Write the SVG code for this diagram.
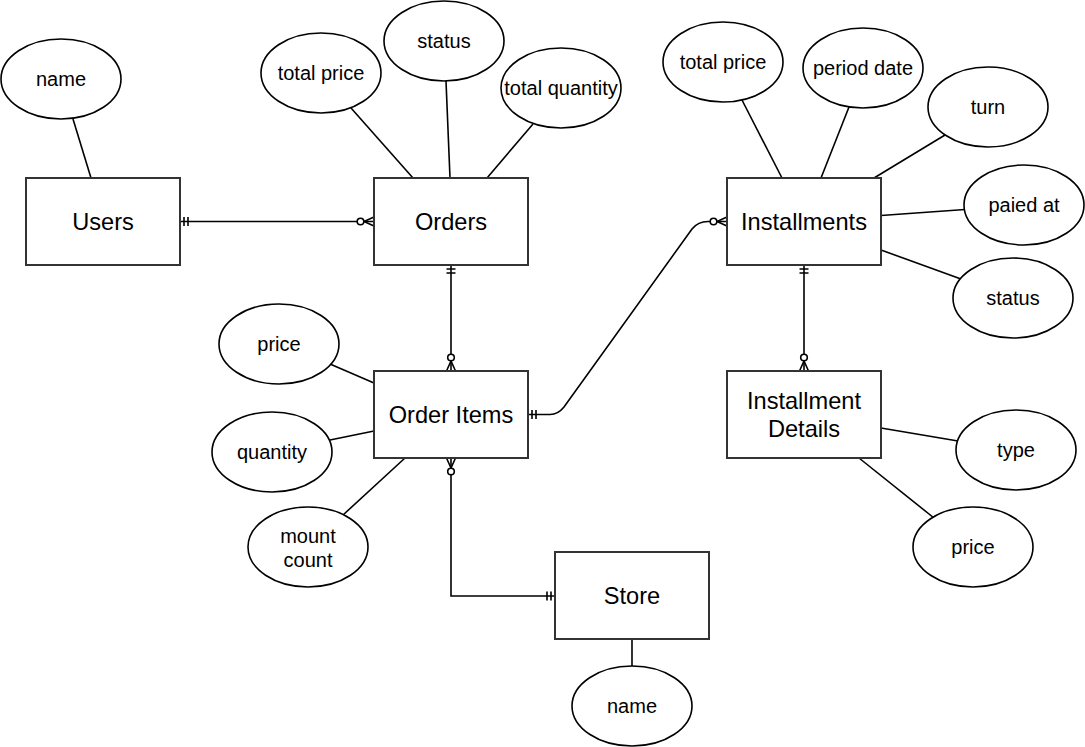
<svg xmlns="http://www.w3.org/2000/svg" width="1085" height="747" viewBox="0 0 1085 747">
<style>
.ent{fill:#fff;stroke:#333;stroke-width:2}
.att{fill:#fff;stroke:#000;stroke-width:1.6}
.ln{fill:none;stroke:#000;stroke-width:1.6}
.et{font-family:"Liberation Sans",Arial,sans-serif;font-size:23.6px;text-anchor:middle;fill:#000}
.at{font-family:"Liberation Sans",Arial,sans-serif;font-size:20px;text-anchor:middle;fill:#000}
</style>
<defs>
<marker id="one" markerUnits="userSpaceOnUse" viewBox="-20 -10 22 20" markerWidth="22" markerHeight="20" refX="0" refY="0" orient="auto-start-reverse">
<path d="M-4,-4.5V4.5M-8,-4.5V4.5" fill="none" stroke="#000" stroke-width="1.6"/>
</marker>
<marker id="many" markerUnits="userSpaceOnUse" viewBox="-20 -10 22 20" markerWidth="22" markerHeight="20" refX="0" refY="0" orient="auto-start-reverse">
<path d="M0,-4.5L-10,0L0,4.5" fill="none" stroke="#000" stroke-width="1.6"/>
<circle cx="-13.5" cy="0" r="3.3" fill="#fff" stroke="#000" stroke-width="1.6"/>
</marker>
</defs>
<rect width="1085" height="747" fill="#fff"/>

<g id="attr-lines" class="ln">
<path d="M73,119L91,178"/>
<path d="M351,108L413,178"/>
<path d="M446,81L450,178"/>
<path d="M533,124L487,178"/>
<path d="M742,100L782,178"/>
<path d="M849,107L821,178"/>
<path d="M945,135L874,178"/>
<path d="M965,209.5L881,215.5"/>
<path d="M961,279L881,250"/>
<path d="M330,364L374,383"/>
<path d="M330,440L374,431"/>
<path d="M343,515L405,458"/>
<path d="M958,441L881,428"/>
<path d="M934,518L859,458"/>
<path d="M632,639V667"/>
</g>

<g id="connectors" class="ln">
<path d="M180,221.5H374" marker-start="url(#one)" marker-end="url(#many)"/>
<path d="M451,265V371" marker-start="url(#one)" marker-end="url(#many)"/>
<path d="M528,414.5H550Q558,414.5 564,407L692,229Q698,221.5 708,221.5H727" marker-start="url(#one)" marker-end="url(#many)"/>
<path d="M804,265V371" marker-start="url(#one)" marker-end="url(#many)"/>
<path d="M451,458V596H555" marker-start="url(#many)" marker-end="url(#one)"/>
</g>

<g id="users"><rect class="ent" x="26" y="178" width="154" height="87"/><text class="et" x="103" y="230">Users</text></g>
<g id="orders"><rect class="ent" x="374" y="178" width="154" height="87"/><text class="et" x="451" y="230">Orders</text></g>
<g id="installments"><rect class="ent" x="727" y="178" width="154" height="87"/><text class="et" x="804" y="230">Installments</text></g>
<g id="order-items"><rect class="ent" x="374" y="371" width="154" height="87"/><text class="et" x="451" y="423">Order Items</text></g>
<g id="installment-details"><rect class="ent" x="727" y="371" width="154" height="87"/><text class="et" x="804" y="409">Installment</text><text class="et" x="804" y="437">Details</text></g>
<g id="store"><rect class="ent" x="555" y="552" width="154" height="87"/><text class="et" x="632" y="604">Store</text></g>

<g id="users-name"><ellipse class="att" cx="61" cy="79" rx="60" ry="40"/><text class="at" x="61" y="86">name</text></g>
<g id="orders-total-price"><ellipse class="att" cx="321" cy="73" rx="60" ry="40"/><text class="at" x="321" y="80">total price</text></g>
<g id="orders-status"><ellipse class="att" cx="444" cy="41" rx="60" ry="40"/><text class="at" x="444" y="48">status</text></g>
<g id="orders-total-quantity"><ellipse class="att" cx="561" cy="88" rx="60" ry="40"/><text class="at" x="561" y="95">total quantity</text></g>
<g id="inst-total-price"><ellipse class="att" cx="723" cy="62" rx="60" ry="40"/><text class="at" x="723" y="69">total price</text></g>
<g id="inst-period-date"><ellipse class="att" cx="863" cy="68" rx="60" ry="40"/><text class="at" x="863" y="75">period date</text></g>
<g id="inst-turn"><ellipse class="att" cx="988" cy="107" rx="60" ry="40"/><text class="at" x="988" y="114">turn</text></g>
<g id="inst-paied-at"><ellipse class="att" cx="1024" cy="205" rx="60" ry="40"/><text class="at" x="1024" y="212">paied at</text></g>
<g id="inst-status"><ellipse class="att" cx="1013" cy="298" rx="60" ry="40"/><text class="at" x="1013" y="305">status</text></g>
<g id="oi-price"><ellipse class="att" cx="279" cy="344" rx="60" ry="40"/><text class="at" x="279" y="351">price</text></g>
<g id="oi-quantity"><ellipse class="att" cx="272" cy="452" rx="60" ry="40"/><text class="at" x="272" y="459">quantity</text></g>
<g id="oi-mount-count"><ellipse class="att" cx="308" cy="547" rx="60" ry="40"/><text class="at" x="308" y="543">mount</text><text class="at" x="308" y="567">count</text></g>
<g id="id-type"><ellipse class="att" cx="1016" cy="450" rx="60" ry="40"/><text class="at" x="1016" y="457">type</text></g>
<g id="id-price"><ellipse class="att" cx="973" cy="547" rx="60" ry="40"/><text class="at" x="973" y="554">price</text></g>
<g id="store-name"><ellipse class="att" cx="632" cy="706" rx="60" ry="40"/><text class="at" x="632" y="713">name</text></g>
</svg>
